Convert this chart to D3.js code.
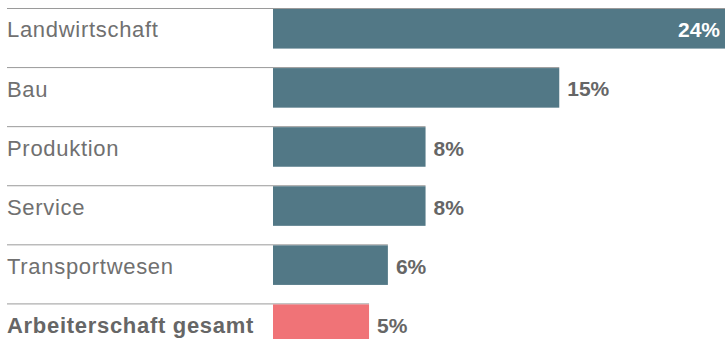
<!DOCTYPE html>
<html>
<head>
<meta charset="utf-8">
<script src="https://cdn.jsdelivr.net/npm/d3@7"></script>
<style>
  body { margin: 0; background: #fff; }
  svg { display: block; }
  .label { font-family: 'Liberation Sans', Arial, sans-serif; font-size: 22px; fill: #707070; letter-spacing: 0.7px; }
  .label.total { font-weight: bold; fill: #666; }
  .value { font-family: 'Liberation Sans', Arial, sans-serif; font-size: 21px; font-weight: bold; fill: #666; }
</style>
</head>
<body>
<div id="chart"></div>
<script>
var categories = ['Landwirtschaft', 'Bau', 'Produktion', 'Service', 'Transportwesen', 'Arbeiterschaft gesamt'];
var values = [24, 15.2, 8.1, 8.1, 6.1, 5.1];
var valueLabels = ['24%', '15%', '8%', '8%', '6%', '5%'];

var width = 725, height = 339;

var svg = d3.select('#chart').append('svg')
    .attr('width', width)
    .attr('height', height);

var data = categories.map((c, i) => ({ name: c, value: values[i], label: valueLabels[i], total: i === categories.length - 1 }));

var y = d3.scaleBand()
    .domain(categories)
    .range([9, 344])
    .paddingInner(0.33)
    .paddingOuter(0);

var x = d3.scaleLinear()
    .domain([0, 24])
    .range([273, 725]);

var rows = svg.selectAll('.row')
    .data(data)
    .enter()
    .append('g')
    .attr('class', 'row')
    .attr('transform', d => 'translate(0,' + y(d.name) + ')');

// top rule, from label start to bar end
rows.append('line')
    .attr('x1', 7)
    .attr('x2', d => x(d.value))
    .attr('y1', -0.5)
    .attr('y2', -0.5)
    .attr('stroke', '#9a9a9a')
    .attr('stroke-width', 1);

rows.append('rect')
    .attr('x', x(0))
    .attr('y', 0)
    .attr('width', d => x(d.value) - x(0))
    .attr('height', y.bandwidth())
    .attr('fill', d => d.total ? '#f07377' : '#527886');

rows.append('text')
    .attr('class', d => d.total ? 'label total' : 'label')
    .attr('x', 7)
    .attr('y', y.bandwidth() / 2 + 1)
    .attr('dy', '0.35em')
    .text(d => d.name);

rows.append('text')
    .attr('class', 'value')
    .attr('x', d => d.value >= 20 ? x(d.value) - 5 : x(d.value) + 8)
    .attr('y', y.bandwidth() / 2 + 1)
    .attr('dy', '0.36em')
    .attr('text-anchor', d => d.value >= 20 ? 'end' : 'start')
    .style('fill', d => d.value >= 20 ? '#fff' : null)
    .text(d => d.label);
</script>
</body>
</html>
